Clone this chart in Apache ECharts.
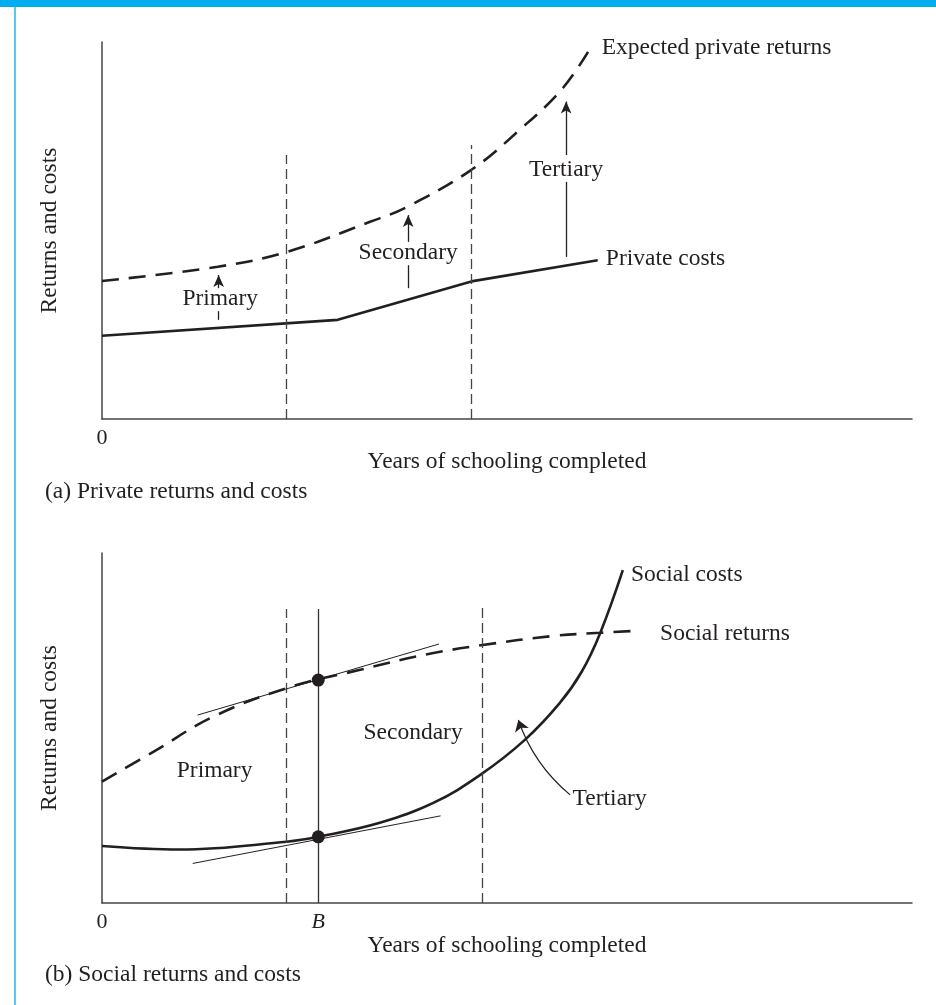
<!DOCTYPE html>
<html>
<head>
<meta charset="utf-8">
<script src="https://cdn.jsdelivr.net/npm/echarts@6/dist/echarts.min.js"></script>
<style>
html, body { margin: 0; padding: 0; background: #fff; }
#chart { width: 936px; height: 1005px; }
</style>
</head>
<body>
<div id="chart"></div>
<script>
// panel (a): private returns and costs
var privReturnX = [0, 14.3, 22.8, 33.1, 37.7, 45.6, 51.3, 56.9, 60.6];
var privReturns = [36.6, 40.4, 44.3, 52.3, 56.3, 66.1, 76.2, 87.8, 99.5];
var privCostX = [0, 29.1, 45.6, 61.2];
var privCosts = [22.1, 26.3, 36.5, 42.1];
var boundsA = [[22.8, 70.0], [45.6, 72.7]];           // [x, top]
var segmentsA = [[14.4, 26.3, 28.6], [37.8, 34.7, 40.8], [57.3, 43.0, 62.9]];  // [x, from, to]
var arrowsA = [[14.4, 34.7, 38.2], [37.8, 47.0, 54.1], [57.3, 70.0, 84.2]];
var labelsA = [
  ['Primary', 14.6, 31.9, 'c'], ['Secondary', 37.8, 44.1, 'c'], ['Tertiary', 57.3, 66.1, 'c'],
  ['Expected private returns', 61.7, 98.4, 'l'], ['Private costs', 62.2, 42.5, 'l']
];

// panel (b): social returns and costs
var socReturnX = [0, 6.7, 13.7, 22.8, 32, 40, 47, 55.7, 61.5, 66.4];
var socReturns = [34.7, 43.7, 53.2, 61.4, 66.7, 71.0, 73.7, 76.3, 77.2, 77.8];
var socCostX = [0, 9.6, 22.8, 26.7, 34.3, 40.9, 46.7, 52.2, 56.5, 59.2, 61.5, 64.3];
var socCosts = [16.3, 15.3, 17.5, 18.9, 22.9, 28.6, 36.6, 46.6, 57.1, 66.0, 77.1, 95.1];
var pointB = 26.7;
var boundsB = [[22.8, 84.0], [47.0, 84.3]];
var dotsB = [[26.7, 63.7], [26.7, 18.9]];
var tangentsB = [[[11.8, 53.7], [41.6, 74.0]], [[11.2, 11.3], [41.8, 24.9]]];
var curvedArrowB = [[57.8, 30.9], [51.4, 52.3]];
var labelsB = [
  ['Primary', 13.9, 37.7, 'c'], ['Secondary', 38.4, 48.6, 'c'], ['Tertiary', 58.1, 29.7, 'l'],
  ['Social costs', 65.3, 93.7, 'l'], ['Social returns', 68.9, 76.9, 'l']
];

var ink = '#231f20';
var font = 'Liberation Serif';
var fsize = 23.5;

function zip(xs, ys) {
  return xs.map(function (x, i) { return [x, ys[i]]; });
}

function vertical(list) {
  return list.map(function (b) { return [{ coord: [b[0], 0] }, { coord: [b[0], b[1]] }]; });
}

function upright(list) {
  return list.map(function (s) { return [{ coord: [s[0], s[1]] }, { coord: [s[0], s[2]] }]; });
}

function textSeries(list, idx) {
  return {
    type: 'scatter', xAxisIndex: idx, yAxisIndex: idx, symbolSize: 0, silent: true,
    itemStyle: { opacity: 1 },
    data: list.map(function (l) {
      return {
        value: [l[1], l[2]], name: l[0],
        label: { position: l[3] === 'c' ? 'inside' : 'right', distance: 0 }
      };
    }),
    label: { show: true, formatter: '{b}', color: ink, fontFamily: font, fontSize: fsize }
  };
}

function plainLines(data, idx, style) {
  return {
    type: 'line', xAxisIndex: idx, yAxisIndex: idx, data: [], silent: true,
    markLine: { silent: true, symbol: ['none', 'none'], label: { show: false },
      lineStyle: style, data: data, animation: false }
  };
}

function arrowLines(data, idx, style) {
  return {
    type: 'line', xAxisIndex: idx, yAxisIndex: idx, data: [], silent: true,
    markLine: { silent: true, symbol: ['none', 'arrow'], symbolSize: [8, 12], label: { show: false },
      lineStyle: style, data: data, animation: false }
  };
}

var axisLine = { show: true, lineStyle: { color: '#444', width: 1.5 } };
var nameStyle = { color: ink, fontFamily: font, fontSize: fsize };

var myChart = echarts.init(document.getElementById('chart'));
var option = {
  animation: false,
  backgroundColor: '#fff',
  graphic: [
    { type: 'rect', shape: { x: 0, y: 0, width: 936, height: 7 }, style: { fill: '#00aeef' } },
    { type: 'rect', shape: { x: 14, y: 7, width: 2, height: 998 }, style: { fill: '#5cc6f2' } }
  ],
  title: [
    { text: '(a) Private returns and costs', left: 40, top: 475,
      textStyle: { color: ink, fontFamily: font, fontSize: fsize, fontWeight: 'normal' } },
    { text: '(b) Social returns and costs', left: 40, top: 958,
      textStyle: { color: ink, fontFamily: font, fontSize: fsize, fontWeight: 'normal' } }
  ],
  grid: [
    { left: 102, top: 42, width: 810, height: 377 },
    { left: 102, top: 553, width: 810, height: 350 }
  ],
  xAxis: [0, 1].map(function (i) {
    return {
      type: 'value', gridIndex: i, min: 0, max: 100,
      axisLine: axisLine, axisTick: { show: false }, splitLine: { show: false },
      axisLabel: {
        customValues: i === 0 ? [0] : [0, pointB],
        margin: 8, color: ink, fontFamily: font, fontSize: 22,
        formatter: function (v) { return v === 0 ? '0' : '{i|B}'; },
        rich: { i: { fontStyle: 'italic', fontFamily: font, fontSize: 22, color: ink } }
      },
      name: 'Years of schooling completed', nameLocation: 'middle', nameGap: 27,
      nameTextStyle: nameStyle
    };
  }),
  yAxis: [0, 1].map(function (i) {
    return {
      type: 'value', gridIndex: i, min: 0, max: 100,
      axisLine: axisLine, axisTick: { show: false }, splitLine: { show: false },
      axisLabel: { show: false },
      name: 'Returns and costs', nameLocation: 'middle', nameGap: 40,
      nameTextStyle: nameStyle
    };
  }),
  series: [
    // panel (a)
    { type: 'line', xAxisIndex: 0, yAxisIndex: 0, data: zip(privReturnX, privReturns), smooth: 0.4,
      showSymbol: false, lineStyle: { color: ink, width: 2.6, type: [17, 10] }, silent: true },
    { type: 'line', xAxisIndex: 0, yAxisIndex: 0, data: zip(privCostX, privCosts),
      showSymbol: false, lineStyle: { color: ink, width: 2.6 }, silent: true },
    plainLines(vertical(boundsA), 0, { color: '#444', width: 1.3, type: [10, 5] }),
    plainLines(upright(segmentsA), 0, { color: ink, width: 1.3, type: 'solid' }),
    arrowLines(upright(arrowsA), 0, { color: ink, width: 1.3, type: 'solid' }),
    textSeries(labelsA, 0),

    // panel (b)
    { type: 'line', xAxisIndex: 1, yAxisIndex: 1, data: zip(socReturnX, socReturns), smooth: 0.4,
      showSymbol: false, lineStyle: { color: ink, width: 2.6, type: [17, 10] }, silent: true },
    { type: 'line', xAxisIndex: 1, yAxisIndex: 1, data: zip(socCostX, socCosts), smooth: 0.4,
      showSymbol: false, lineStyle: { color: ink, width: 2.6 }, silent: true },
    plainLines(vertical(boundsB), 1, { color: '#444', width: 1.3, type: [10, 5] }),
    plainLines(vertical([[pointB, 84.0]]), 1, { color: '#333', width: 1.3, type: 'solid' }),
    plainLines(tangentsB.map(function (t) { return [{ coord: t[0] }, { coord: t[1] }]; }), 1,
      { color: ink, width: 1, type: 'solid' }),
    { type: 'lines', coordinateSystem: 'cartesian2d', xAxisIndex: 1, yAxisIndex: 1, silent: true,
      symbol: ['none', 'arrow'], symbolSize: 11,
      lineStyle: { color: ink, width: 1.2, opacity: 1, curveness: 0.14 },
      data: [{ coords: curvedArrowB }] },
    { type: 'scatter', xAxisIndex: 1, yAxisIndex: 1, data: dotsB, symbolSize: 13,
      itemStyle: { color: ink, opacity: 1 }, silent: true, z: 5 },
    textSeries(labelsB, 1)
  ]
};
option && myChart.setOption(option);
</script>
</body>
</html>
